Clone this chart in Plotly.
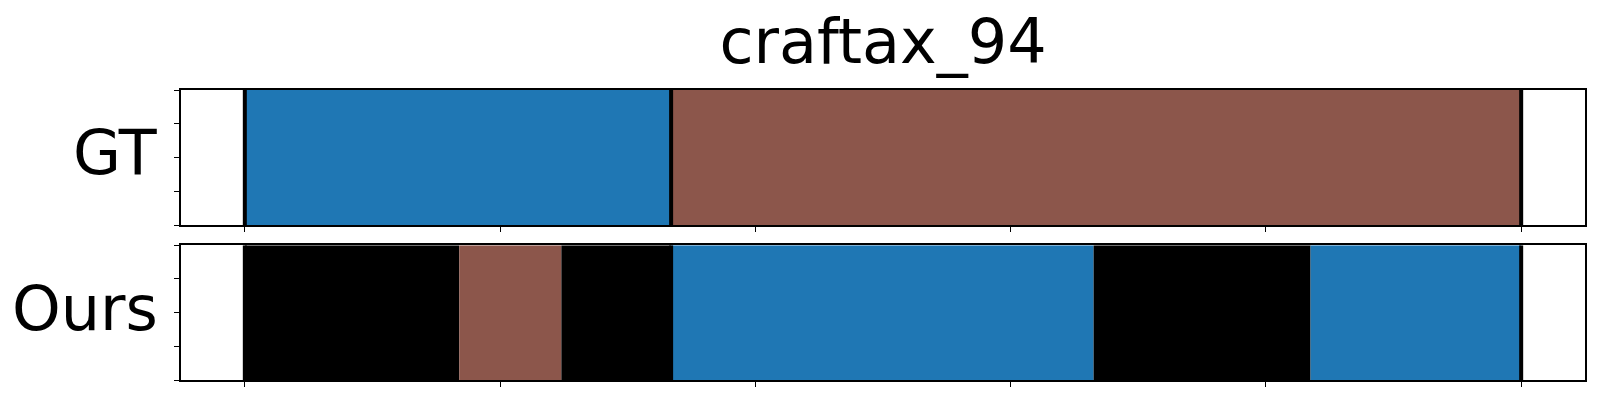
import plotly.graph_objects as go

# ---- data (frame position, in percent of the episode) ----
N_FRAMES = 100
title_text = "craftax_94"
row_labels = ["GT", "Ours"]

gt_starts = [0, 33.4]
gt_ends = [33.4, 100]
gt_colors = ["#1f77b4", "#8c564b"]

ours_starts = [0, 16.8, 24.8, 33.4, 66.5, 83.5]
ours_ends = [16.8, 24.8, 33.4, 66.5, 83.5, 100]
ours_colors = ["#000000", "#8c564b", "#000000", "#1f77b4", "#000000", "#1f77b4"]

boundaries = [0, 33.4, 100]  # GT segment boundaries (drawn as black lines)

FONT = "DejaVu Sans"
OFF = 8  # page body margin compensation
fig = go.Figure()

rows = [
    ("x", "y", gt_starts, gt_ends, gt_colors),
    ("x2", "y2", ours_starts, ours_ends, ours_colors),
]
for xa, ya, starts, ends, colors in rows:
    for s, e, c in zip(starts, ends, colors):
        fig.add_trace(go.Bar(
            orientation="h", y=[0.5], x=[e - s], base=[s], width=1.0,
            marker=dict(color=c, line=dict(width=0)),
            xaxis=xa, yaxis=ya, showlegend=False, hoverinfo="skip",
        ))
    for b in boundaries:
        fig.add_trace(go.Scatter(
            x=[b, b], y=[0, 1], mode="lines",
            line=dict(color="black", width=4),
            xaxis=xa, yaxis=ya, showlegend=False, hoverinfo="skip",
        ))

pad = 0.05 * N_FRAMES
xt = [N_FRAMES * i / 5 for i in range(6)]
xcommon = dict(range=[-pad, N_FRAMES + pad], tickvals=xt, showticklabels=False,
               ticks="outside", ticklen=5, tickwidth=1, tickcolor="black",
               showline=True, linecolor="black", linewidth=1.5, mirror=True,
               showgrid=False, zeroline=False, fixedrange=True)
ycommon = dict(range=[0, 1], tickvals=[0, 0.25, 0.5, 0.75, 1], showticklabels=False,
               ticks="outside", ticklen=5, tickwidth=1, tickcolor="black",
               showline=True, linecolor="black", linewidth=1.5, mirror=True,
               showgrid=False, zeroline=False, fixedrange=True)

fig.update_layout(
    width=1600, height=400,
    margin=dict(l=181 - OFF, r=15 + OFF, t=90 - OFF, b=20 + OFF),
    paper_bgcolor="white", plot_bgcolor="white",
    barmode="overlay",
    xaxis=dict(domain=[0, 1], anchor="y", **xcommon),
    yaxis=dict(domain=[0.5334, 1], anchor="x", **ycommon),
    xaxis2=dict(domain=[0, 1], anchor="y2", **xcommon),
    yaxis2=dict(domain=[0, 0.4645], anchor="x2", **ycommon),
    font=dict(family=FONT, color="black"),
    title=dict(text=title_text, x=0.5, xref="paper", xanchor="center",
               y=1 - (41.3 - OFF) / 400, yanchor="middle", yref="container",
               font=dict(family=FONT, size=62, color="black")),
)

label_y = [(380 - 152.3) / 290, (380 - 308.3) / 290]
for lab, ly in zip(row_labels, label_y):
    fig.add_annotation(text=lab, xref="paper", yref="paper", x=0, y=ly,
                       xanchor="right", yanchor="middle", xshift=-21,
                       showarrow=False,
                       font=dict(family=FONT, size=62, color="black"))

fig.write_html("out.html")
